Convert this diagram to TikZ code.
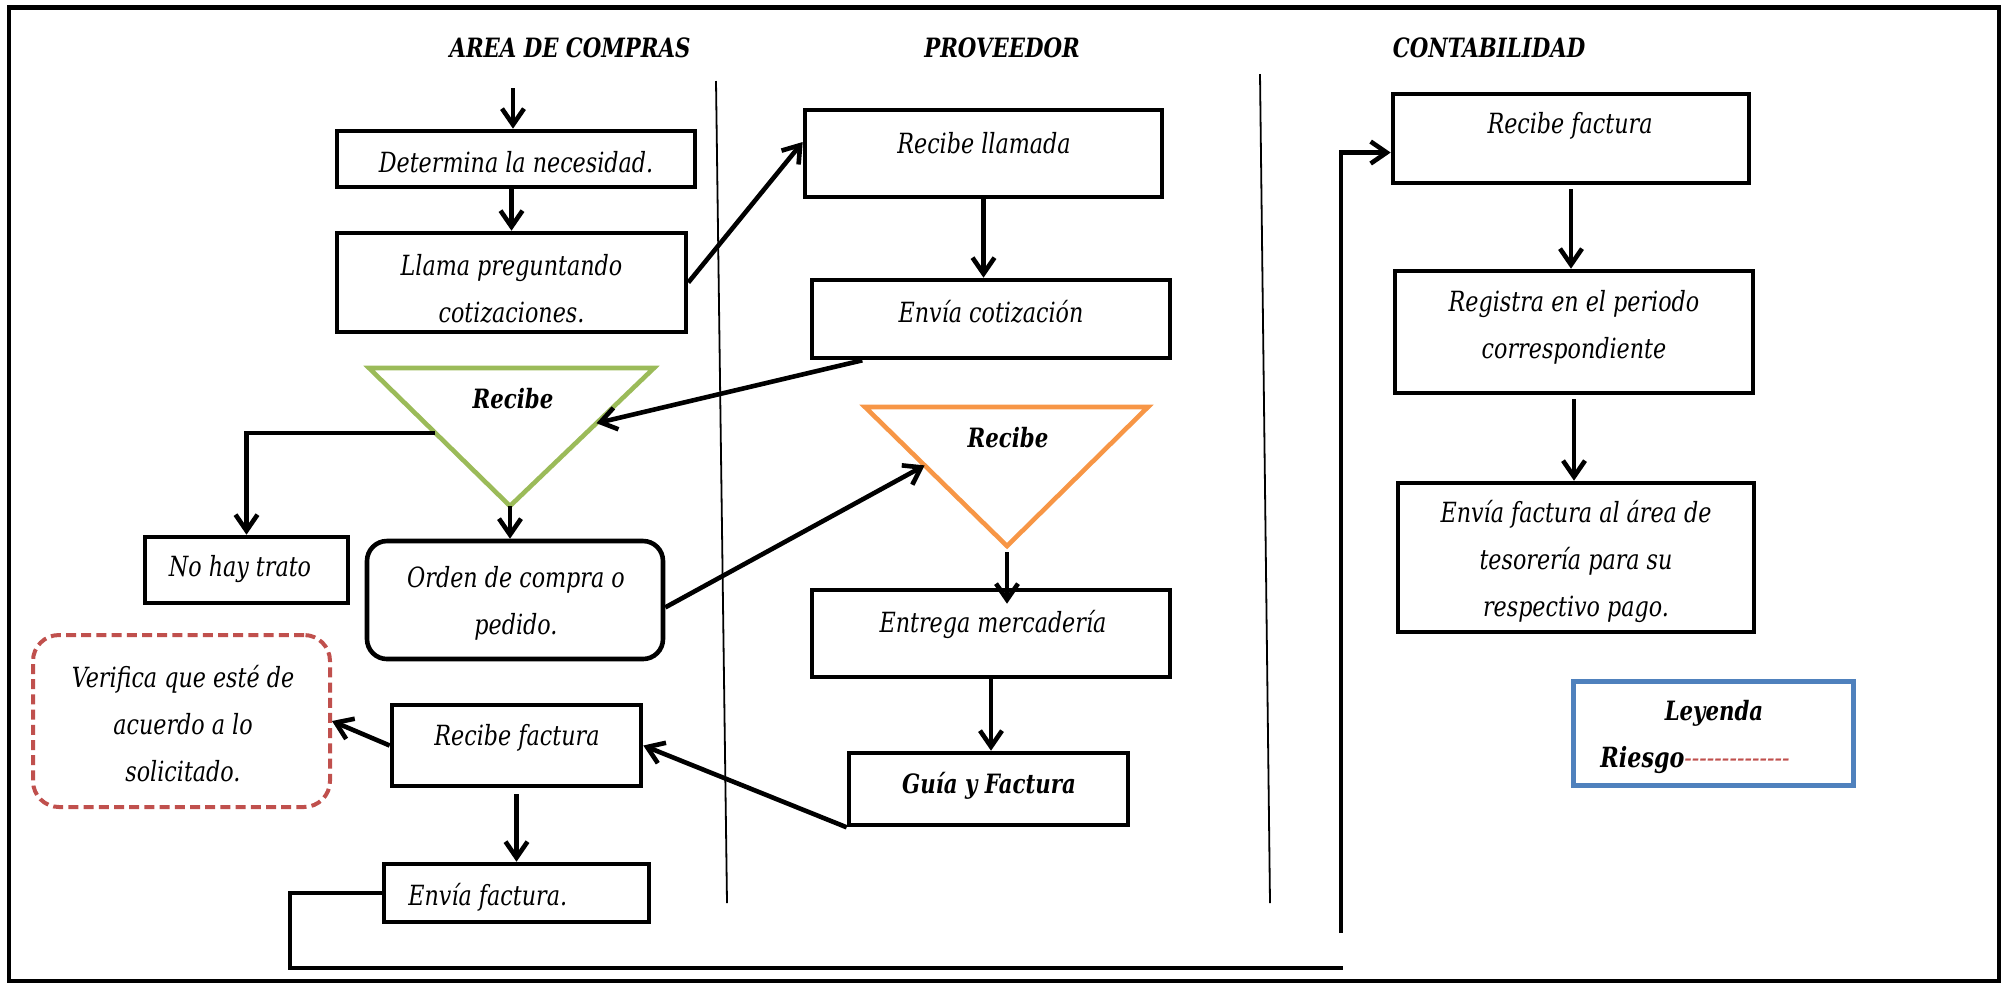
\documentclass[tikz,border=0pt]{standalone}
\usepackage{fontspec}
\setmainfont{DejaVu Serif}[FakeStretch=0.8]
\usetikzlibrary{arrows.meta,calc}
\definecolor{trigreen}{HTML}{9BBB59}
\definecolor{triorange}{HTML}{F79646}
\definecolor{riskred}{HTML}{C0504D}
\definecolor{legblue}{HTML}{4F81BD}
\begin{document}
\begin{tikzpicture}[x=0.5pt,y=-0.5pt,
  every node/.style={font=\fontsize{13.9}{23.5}\selectfont\itshape},
  box/.style={draw=black,line width=2.3pt,inner sep=0pt},
  lbl/.style={align=center,inner sep=0pt},
  boldlbl/.style={lbl,font=\fontsize{13.3}{23.5}\selectfont\bfseries\itshape},
  lane/.style={line width=0.9pt},
  conn/.style={line width=2.3pt},
  arr/.style={conn,-{Straight Barb[length=8pt,width=11pt]}},
  tri/.style={line width=2.3pt,line join=miter},
]
\useasboundingbox (0,0) rectangle (2006,982);

% outer frame
\draw[line width=2.2pt] (9,7.5) rectangle (1999,981);

% swimlane separators
\coordinate (l1t) at (716,81);  \coordinate (l1b) at (727,903);
\coordinate (l2t) at (1260,74); \coordinate (l2b) at (1270,903);
\draw[lane] (l1t) -- (l1b);
\draw[lane] (l2t) -- (l2b);

% lane titles
\node[boldlbl] (h1) at (570,48) {AREA DE COMPRAS};
\node[boldlbl] (h2) at (1002,48) {PROVEEDOR};
\node[boldlbl] (h3) at (1489,48) {CONTABILIDAD};

% ---------- AREA DE COMPRAS ----------
\node[box,minimum width=179pt,minimum height=28pt] (det) at (516,159) {};
\node[lbl] (tdet) at (516,162) {Determina la necesidad.};

\node[box,minimum width=174.5pt,minimum height=49.5pt] (llama) at (511.5,282.5) {};
\node[lbl] (tllama) at (511.5,289) {Llama preguntando\\cotizaciones.};

\coordinate (g1) at (369,368); \coordinate (g2) at (654,368); \coordinate (g3) at (510,506);
\draw[tri,draw=trigreen] (g1) -- (g2) -- (g3) -- cycle;
\node[boldlbl] (tg) at (513,399) {Recibe};

\node[box,minimum width=101.5pt,minimum height=33pt] (notrato) at (246.5,570) {};
\node[lbl] (tnotrato) at (240,569) {No hay trato};

\node[box,rounded corners=10pt,minimum width=148pt,minimum height=59pt] (orden) at (515,600) {};
\node[lbl] (torden) at (516,603) {Orden de compra o\\pedido.};

\node[draw=riskred,line width=2pt,dash pattern=on 5pt off 2.6pt,rounded corners=13pt,
      inner sep=0pt,minimum width=148.5pt,minimum height=86pt] (verif) at (181.5,721) {};
\node[lbl] (tverif) at (183,724) {Verifica que esté de\\acuerdo a lo\\solicitado.};

\node[box,minimum width=124.5pt,minimum height=40.5pt] (rfact) at (516.5,745.5) {};
\node[lbl] (trfact) at (517,738) {Recibe factura};

\node[box,minimum width=132.5pt,minimum height=29pt] (envf) at (516.5,893) {};
\node[lbl,anchor=west] (tenvf) at (408,897) {Envía factura.};

% ---------- PROVEEDOR ----------
\node[box,minimum width=178.5pt,minimum height=43.5pt] (rll) at (983.5,153.5) {};
\node[lbl] (trll) at (984,143) {Recibe llamada};

\node[box,minimum width=179pt,minimum height=39pt] (envc) at (991,319) {};
\node[lbl] (tenvc) at (991,312) {Envía cotización};

\coordinate (o1) at (865,407); \coordinate (o2) at (1148,407); \coordinate (o3) at (1007,546);
\draw[tri,draw=triorange] (o1) -- (o2) -- (o3) -- cycle;
\node[boldlbl] (to) at (1008,438) {Recibe};

\node[box,minimum width=179pt,minimum height=43.5pt] (entrega) at (991,633.5) {};
\node[lbl] (tentrega) at (993,624) {Entrega mercadería};

\node[box,minimum width=139.5pt,minimum height=36pt] (guia) at (988.5,789) {};
\node[boldlbl] (tguia) at (989,786) {Guía y Factura};

% ---------- CONTABILIDAD ----------
\node[box,minimum width=178pt,minimum height=44.5pt] (rfc) at (1571,138.5) {};
\node[lbl] (trfc) at (1570,126) {Recibe factura};

\node[box,minimum width=179pt,minimum height=61pt] (reg) at (1574,332) {};
\node[lbl] (treg) at (1574,327) {Registra en el periodo\\correspondiente};

\node[box,minimum width=178pt,minimum height=74.5pt] (envta) at (1576,557.5) {};
\node[lbl] (tenvta) at (1576,561) {Envía factura al área de\\tesorería para su\\respectivo pago.};

% legend
\node[draw=legblue,line width=2.5pt,inner sep=0pt,minimum width=140pt,minimum height=52pt] (leg) at (1713,733) {};
\node[boldlbl] (tley) at (1714,713) {Leyenda};
\node[lbl,anchor=base west] (trie) at (1600,767)
  {\bfseries Riesgo\textcolor{riskred}{\mdseries -{}-{}-{}-{}-{}-{}-{}-{}-{}-{}-{}-{}-{}-{}}};

% ---------- connectors ----------
\coordinate (start) at (513,88);
\draw[arr] (start) -- (start |- det.north);
\draw[arr] (det.south -| llama.north) -- (llama.north);
\draw[arr] (llama.east) -- (rll.west |- 0,142);
\draw[arr] (rll.south) -- (rll.south |- envc.north);
\draw[arr] ($(envc.south west)!0.145!(envc.south east)$) -- ($(g2)!0.4!(g3)$);
\draw[arr] ($(g1)!0.47!(g3)$) -| (notrato.north);
\draw[arr] (g3) -- (g3 |- orden.north);
\draw[arr] ($(orden.north east)!0.56!(orden.south east)$) -- ($(o1)!0.42!(o3)$);
\draw[arr] ($(o3)+(0,6)$) -- ($(o3 |- entrega.north)+(0,16)$);
\draw[arr] (entrega.south) -- (entrega.south |- guia.north);
\draw[arr] (guia.south west) -- (rfact.east);
\draw[arr] (rfact.west) -- (verif.east);
\draw[arr] ($(rfact.south)+(0,6)$) -- (rfact.south |- envf.north);

\coordinate (lb) at (290,968);
\coordinate (le) at (1343,968);
\draw[conn] (envf.west) -| (lb) -- (le);
\coordinate (ub) at (1341,933);
\draw[arr] (ub) |- ($(rfc.north west)!0.65!(rfc.south west)$);

\draw[arr] ($(rfc.south)+(0,4)$) -- (rfc.south |- reg.north);
\draw[arr] ($(reg.south)+(0,4)$) -- (reg.south |- envta.north);
\end{tikzpicture}
\end{document}
